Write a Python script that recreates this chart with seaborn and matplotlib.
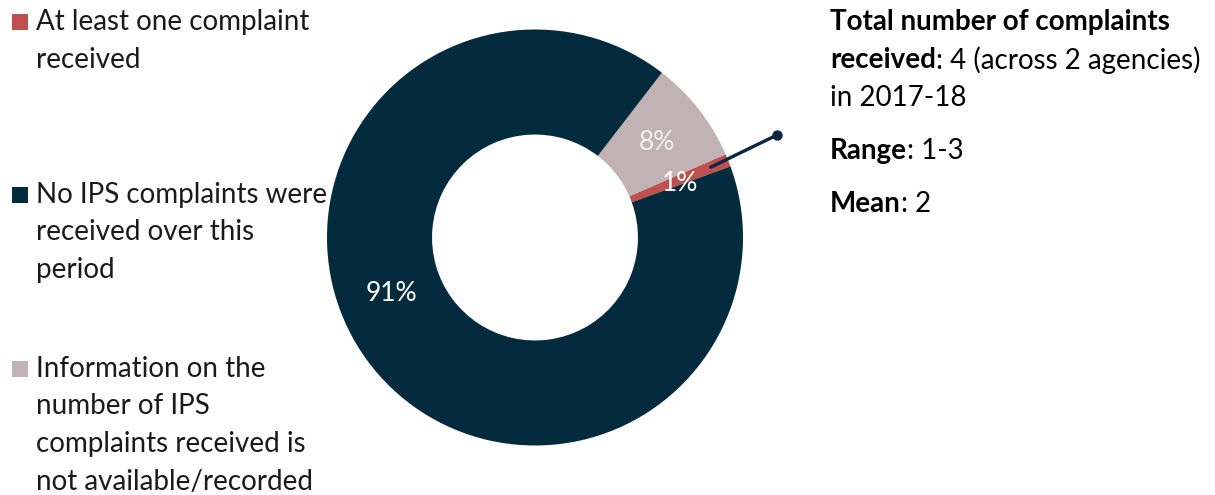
import numpy as np
import matplotlib
matplotlib.use("Agg")
import matplotlib.pyplot as plt
from matplotlib.patches import Rectangle
import seaborn as sns

# Share of agencies by IPS complaint status, 2017-18
categories = [
    "At least one complaint\nreceived",
    "No IPS complaints were\nreceived over this\nperiod",
    "Information on the\nnumber of IPS\ncomplaints received is\nnot available/recorded",
]
shares = [1, 91, 8]
slice_colors = ["#C0504D", "#032B3D", "#C1B2B4"]

# Pie drawing order (counter-clockwise from the start angle)
pie_order = [0, 2, 1]

stats_bold = ["Total number of complaints", "received", "Range", "Mean"]

sns.set_theme(style="white")
plt.rcParams["font.family"] = ["Lato", "DejaVu Sans"]

W, H = 1215, 495
fig = plt.figure(figsize=(W / 100, H / 100), dpi=100)
fig.patch.set_facecolor("white")

FS = 20


def fx(x):
    return x / W


def fy(y):
    return 1 - y / H


# Donut
cx, cy, r = 535, 237.5, 208
ax = fig.add_axes([fx(cx - r), fy(cy + r), 2 * r / W, 2 * r / H])
vals = [shares[i] for i in pie_order]
cols = [slice_colors[i] for i in pie_order]
wedges, _ = ax.pie(vals, colors=cols, startangle=20, counterclock=True,
                   radius=1.0, wedgeprops=dict(width=0.505, linewidth=0))
ax.set_xlim(-1, 1)
ax.set_ylim(-1, 1)
ax.set_aspect("equal")
ax.axis("off")

# Percentage labels
ax.text(-0.69, -0.27, f"{shares[1]}%", color="white", fontsize=19, ha="center", va="center")
ax.text(0.587, 0.455, f"{shares[2]}%", color="#F2F2F2", fontsize=19, ha="center", va="center")
ax.text(0.697, 0.262, f"{shares[0]}%", color="white", fontsize=19, ha="center", va="center")

# Leader line for the small slice
a0 = np.deg2rad(20 + 360 * shares[0] / 100 / 2)
p0 = (0.91 * np.cos(a0), 0.91 * np.sin(a0))
p1 = ((777 - cx) / r, (cy - 135) / r)
ax.plot([p0[0], p1[0]], [p0[1], p1[1]], color="#0B2545", lw=2.4,
        solid_capstyle="round", clip_on=False)
ax.plot([p1[0]], [p1[1]], marker="o", ms=6.5, color="#0B2545", clip_on=False)

# Legend
legend_rows = [(0, 22), (1, 195), (2, 369)]
line_h = 37.5
for idx, ytop in legend_rows:
    fig.patches.append(Rectangle((fx(12), fy(ytop + 8)), 16 / W, 16 / H,
                                 transform=fig.transFigure,
                                 facecolor=slice_colors[idx], edgecolor="none"))
    for k, line in enumerate(categories[idx].split("\n")):
        fig.text(fx(36), fy(ytop + k * line_h), line, fontsize=FS,
                 color="#1a1a1a", ha="left", va="center")

# Summary statistics
fig.canvas.draw()
renderer = fig.canvas.get_renderer()


def mixed(x, y, bold, regular):
    t = fig.text(fx(x), fy(y), bold, fontsize=FS, fontweight="bold",
                 color="black", ha="left", va="center")
    if regular:
        bb = t.get_window_extent(renderer=renderer)
        fig.text(bb.x1 / W, fy(y), regular, fontsize=FS, color="black",
                 ha="left", va="center")


mixed(830, 22, stats_bold[0], "")
mixed(830, 60, stats_bold[1], ": 4 (across 2 agencies)")
fig.text(fx(830), fy(98), "in 2017-18", fontsize=FS, color="black", ha="left", va="center")
mixed(830, 151, stats_bold[2], ": 1-3")
mixed(830, 204, stats_bold[3], ": 2")

fig.savefig("out.png", dpi=100, facecolor="white")
